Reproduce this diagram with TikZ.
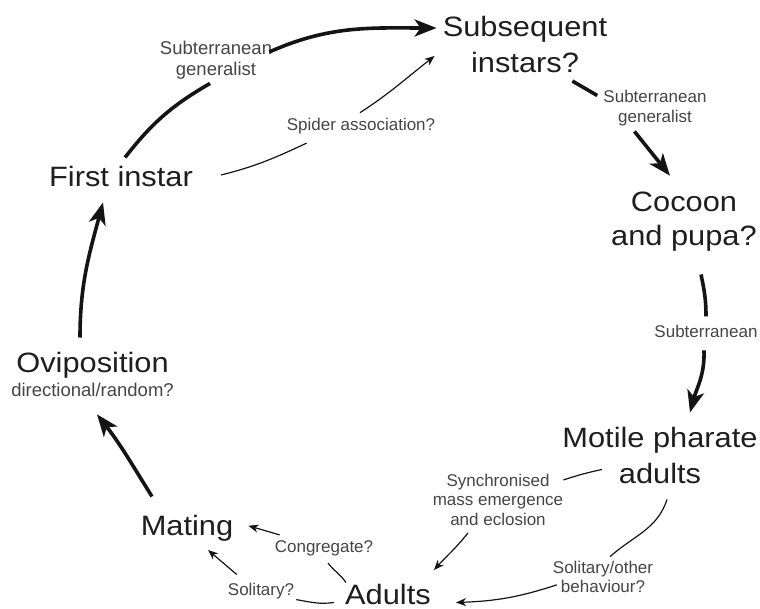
\documentclass[tikz,border=0pt]{standalone}
\usepackage{fontspec}
\setmainfont[FakeStretch=1.1]{Liberation Sans}
\newfontfamily\notefont{Liberation Sans}
\usetikzlibrary{arrows.meta}

\definecolor{stagetext}{HTML}{1E1E1E}
\definecolor{notetext}{HTML}{454545}
\definecolor{inkline}{HTML}{141414}

\tikzset{
  stage/.style={font=\fontsize{28}{36}\selectfont, text=stagetext, inner sep=0pt},
  note/.style={font=\notefont\fontsize{17}{19.5}\selectfont, text=notetext, inner sep=0pt},
  bignote/.style={note, font=\notefont\fontsize{18.5}{20.5}\selectfont},
  heavyline/.style={line width=3.6pt, draw=inkline},
  heavyarrow/.style={heavyline, -{Stealth[length=22pt,width=17pt,inset=6pt]}},
  thinline/.style={line width=1.2pt, draw=inkline},
  thinarrow/.style={thinline, -{Stealth[length=10pt,width=8pt,inset=3pt]}},
}

\begin{document}
\begin{tikzpicture}[x=1pt,y=1pt]
\useasboundingbox (0,0) rectangle (760,609);

% life-cycle stages
\node[stage, align=center] (sub) at (525,564.4) {Subsequent\\instars?};
\node[stage, align=center, font=\fontsize{28}{34}\selectfont] (cocoon) at (684,387.4) {Cocoon\\and pupa?};
\node[stage, align=center] (motile) at (660,154) {Motile pharate\\adults};
\node[stage, anchor=base] (adults) at (388,4.5) {Adults};
\node[stage, anchor=base] (mating) at (187,73) {Mating};
\node[stage, anchor=base] (ovi) at (92.5,236) {Oviposition};
\node[bignote, anchor=base] (ovinote) at (92.5,212) {directional/random?};
\node[stage, anchor=base] (first) at (121,422) {First instar};

% transition labels
\node[bignote, align=center] (lg1) at (216,548.6) {Subterranean\\generalist};
\node[note, align=center] (lg2) at (655,500.8) {Subterranean\\generalist};
\node[note, anchor=base] (lsub) at (706,271) {Subterranean};
\node[note, anchor=base] (spider) at (361,478) {Spider association?};
\node[note, align=center] (synch) at (498,109.1) {Synchronised\\mass emergence\\and eclosion};
\node[note, align=center] (solo) at (603,32.1) {Solitary/other\\behaviour?};
\node[note, anchor=base] (cong) at (324,56) {Congregate?};
\node[note, anchor=base] (solit) at (261,13) {Solitary?};

% main cycle
\draw[heavyline] ([shift={(4,9)}]first.north) to[out=52,in=210] ([shift={(-6,-4)}]lg1.south);
\draw[heavyarrow] ([shift={(-3,8.4)}]lg1.east) to[out=24,in=180] ([shift={(-6,16.6)}]sub.west);
\draw[heavyline] ([shift={(-35,-8)}]sub.south east) -- ([shift={(-6,-5.2)}]lg2.north west);
\draw[heavyarrow] ([shift={(-20.5,-5.4)}]lg2.south) -- ([shift={(-14,16)}]cocoon.north);
\draw[heavyline] ([shift={(17,-23)}]cocoon.south) to[out=-78,in=90] ([shift={(0,9)}]lsub.north);
\draw[heavyarrow] ([shift={(-2,-12)}]lsub.south) to[out=-88,in=75] ([shift={(30,14)}]motile.north);
\draw[heavyarrow] ([shift={(-35,19)}]mating.north) to[out=122,in=-52] ([shift={(4.5,-17)}]ovinote.south);
\draw[heavyarrow] ([shift={(-12.5,15)}]ovi.north) to[out=90,in=-105] ([shift={(-18,-15)}]first.south);

% alternative routes
\draw[thinline] ([shift={(28,2)}]first.east) to[out=14,in=205] ([shift={(20,-8.4)}]spider.south west);
\draw[thinarrow] ([shift={(-1,5.8)}]spider.north) to[out=33,in=218] ([shift={(-8,-11.4)}]sub.west);
\draw[thinline] ([shift={(-58,14)}]motile.south) to[out=192,in=18] ([shift={(0,-6)}]synch.north east);
\draw[thinarrow] ([shift={(-30,-7)}]synch.south) to[out=-128,in=48] ([shift={(3,14)}]adults.north east);
\draw[thinline] ([shift={(7,-16)}]motile.south) to[out=-108,in=42] ([shift={(7,4)}]solo.north);
\draw[thinarrow] ([shift={(4,-8)}]solo.west) to[out=198,in=2] ([shift={(25,-8)}]adults.east);
\draw[thinline] ([shift={(1,1.5)}]adults.north west) to[out=125,in=-52] ([shift={(4,-6.4)}]cong.south);
\draw[thinarrow] ([shift={(5,6)}]cong.north west) -- ([shift={(15,3)}]mating.east);
\draw[thinline] ([shift={(-11,-8)}]adults.west) to[out=188,in=-10] ([shift={(2,-8)}]solit.east);
\draw[thinarrow] ([shift={(9,9)}]solit.north west) -- ([shift={(21,-8)}]mating.south);
\end{tikzpicture}
\end{document}
